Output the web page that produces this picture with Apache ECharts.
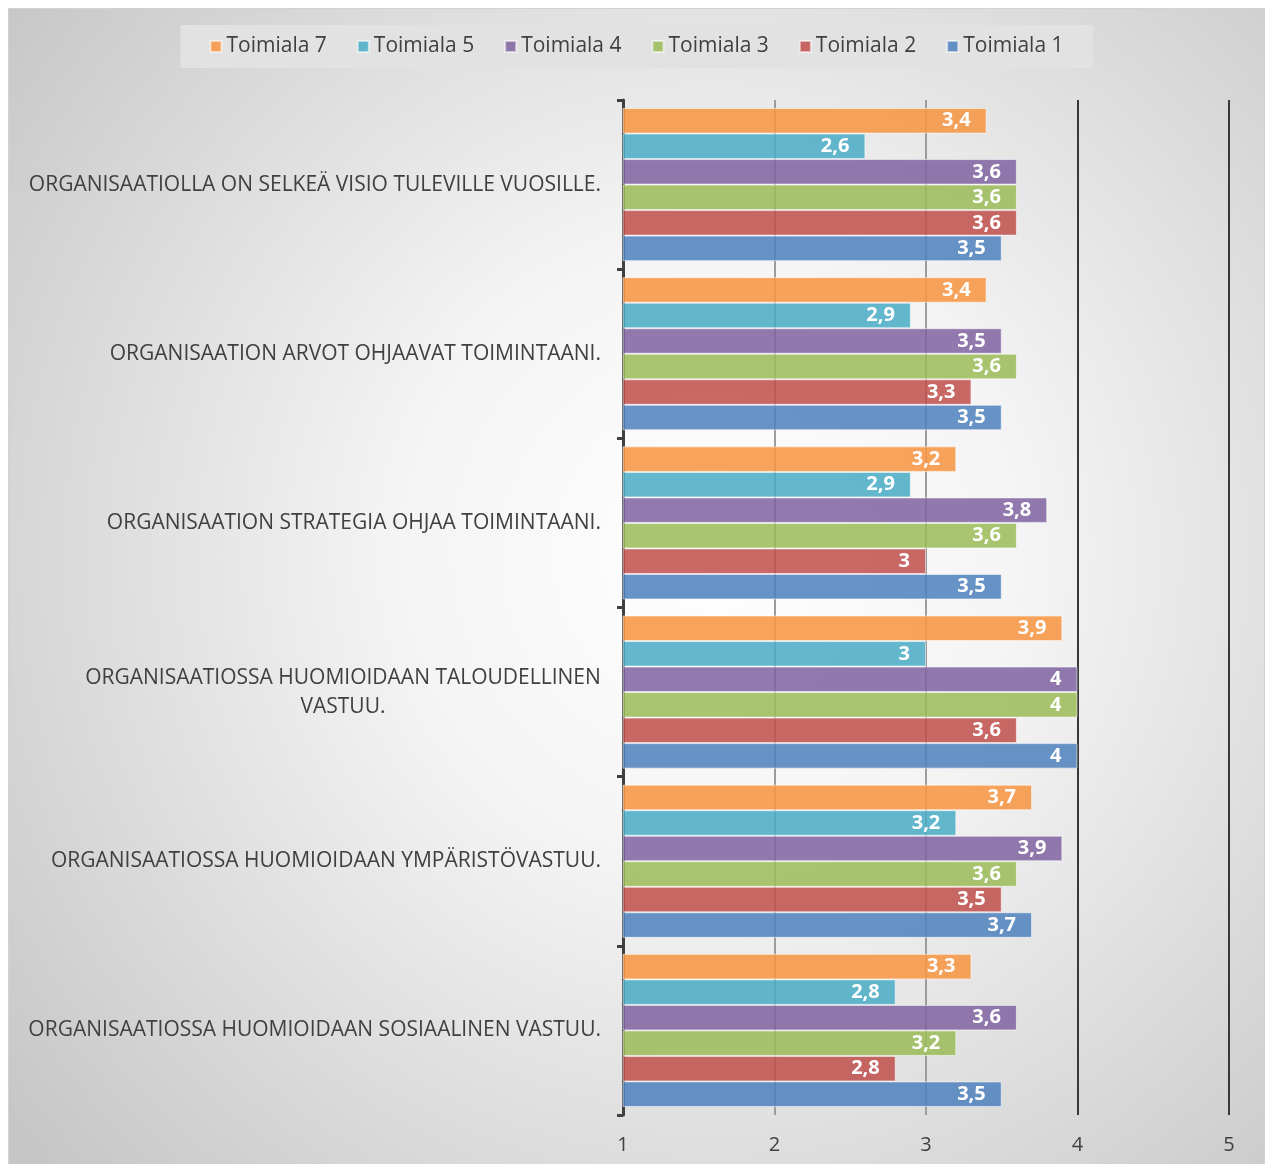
<!DOCTYPE html>
<html>
<head>
<meta charset="utf-8">
<script src="https://cdn.jsdelivr.net/npm/echarts@6/dist/echarts.min.js"></script>
<style>
  html, body { margin: 0; padding: 0; background: #ffffff; }
  #chart {
    position: absolute; left: 8px; top: 8px;
    width: 1257px; height: 1160px;
    box-sizing: border-box; border: 1px solid #d2d2d2;
  }
</style>
</head>
<body>
<div id="chart"></div>
<script>
// Statements (top to bottom)
const categories = [
  'ORGANISAATIOLLA ON SELKEÄ VISIO TULEVILLE VUOSILLE.',
  'ORGANISAATION ARVOT OHJAAVAT TOIMINTAANI.',
  'ORGANISAATION STRATEGIA OHJAA TOIMINTAANI.',
  'ORGANISAATIOSSA HUOMIOIDAAN TALOUDELLINEN\nVASTUU.',
  'ORGANISAATIOSSA HUOMIOIDAAN YMPÄRISTÖVASTUU.',
  'ORGANISAATIOSSA HUOMIOIDAAN SOSIAALINEN VASTUU.'
];

// Mean scores per sector, one value per statement
const toimiala7 = [3.4, 3.4, 3.2, 3.9, 3.7, 3.3];
const toimiala5 = [2.6, 2.9, 2.9, 3.0, 3.2, 2.8];
const toimiala4 = [3.6, 3.5, 3.8, 4.0, 3.9, 3.6];
const toimiala3 = [3.6, 3.6, 3.6, 4.0, 3.6, 3.2];
const toimiala2 = [3.6, 3.3, 3.0, 3.6, 3.5, 2.8];
const toimiala1 = [3.5, 3.5, 3.5, 4.0, 3.7, 3.5];

const seriesNames = ['Toimiala 7', 'Toimiala 5', 'Toimiala 4', 'Toimiala 3', 'Toimiala 2', 'Toimiala 1'];
const seriesData = [toimiala7, toimiala5, toimiala4, toimiala3, toimiala2, toimiala1];
const seriesColors = [
  'rgba(247,150,70,0.88)',
  'rgba(75,172,198,0.86)',
  'rgba(128,100,162,0.86)',
  'rgba(155,187,89,0.86)',
  'rgba(192,80,77,0.86)',
  'rgba(79,129,189,0.86)'
];

const xTicks = [1, 2, 3, 4, 5];

const FONT = '"Open Sans", sans-serif';
const LABEL_SIZE = 21;

// measure text so that a wrapped second line can be centred under the first
const ctx = document.createElement('canvas').getContext('2d');
ctx.font = LABEL_SIZE + 'px ' + FONT;
function textWidth(s) { return Math.ceil(ctx.measureText(s).width); }

const chart = echarts.init(document.getElementById('chart'));

const series = seriesNames.map((name, i) => ({
  name: name,
  type: 'bar',
  data: seriesData[i],
  barGap: '0%',
  barCategoryGap: '9.5%',
  itemStyle: {
    color: seriesColors[i],
    borderColor: 'rgba(255,255,255,0.55)',
    borderWidth: 1
  },
  label: {
    show: true,
    position: 'insideRight',
    distance: 16,
    color: '#ffffff',
    fontFamily: FONT,
    fontWeight: 'bold',
    fontSize: 20,
    formatter: p => String(p.value).replace('.', ',')
  }
}));

chart.setOption({
  backgroundColor: {
    type: 'radial', x: 0.56, y: 0.47, r: 0.78,
    colorStops: [
      { offset: 0, color: '#ffffff' },
      { offset: 0.35, color: '#f4f4f4' },
      { offset: 1, color: '#c6c6c6' }
    ]
  },
  animation: false,
  textStyle: { fontFamily: FONT },
  legend: {
    data: seriesNames,
    top: 16,
    left: 'center',
    icon: 'rect',
    itemWidth: 11,
    itemHeight: 11,
    itemGap: 30,
    padding: [11, 29, 11, 29],
    backgroundColor: '#e2e2e2',
    textStyle: { color: '#404040', fontSize: 21, fontFamily: FONT }
  },
  grid: { left: 614, right: 35, top: 91, bottom: 52, containLabel: false },
  xAxis: {
    type: 'value',
    min: xTicks[0],
    max: xTicks[xTicks.length - 1],
    interval: 1,
    axisLine: { show: false },
    axisTick: { show: false },
    axisLabel: { color: '#404040', fontSize: 20, margin: 20, fontFamily: FONT },
    splitLine: {
      show: true,
      lineStyle: { color: ['#404040', '#9c9c9c', '#9c9c9c', '#383838', '#383838'], width: 2 }
    }
  },
  yAxis: {
    type: 'category',
    data: categories,
    inverse: true,
    axisLine: { show: true, lineStyle: { color: '#404040', width: 3 } },
    axisTick: { show: true, length: 6, lineStyle: { color: '#404040', width: 3 } },
    axisLabel: {
      color: '#404040',
      fontSize: LABEL_SIZE,
      fontFamily: FONT,
      margin: 22,
      lineHeight: 29,
      formatter: v => {
        const lines = v.split('\n');
        if (lines.length === 1) return v;
        return lines.map(l => '{c|' + l + '}').join('\n');
      },
      rich: {
        c: {
          color: '#404040', fontSize: LABEL_SIZE, fontFamily: FONT, lineHeight: 29,
          width: textWidth('ORGANISAATIOSSA HUOMIOIDAAN TALOUDELLINEN'), align: 'center'
        }
      }
    }
  },
  series: series
});
</script>
</body>
</html>
